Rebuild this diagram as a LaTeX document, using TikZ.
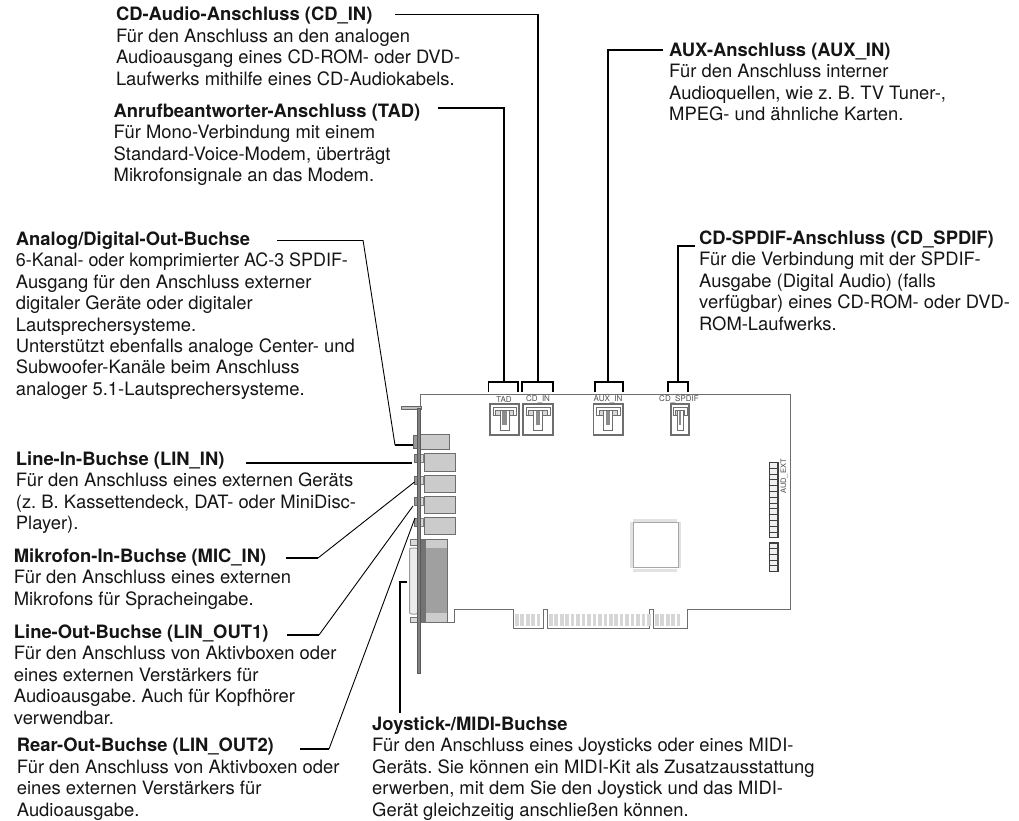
\documentclass[tikz,border=0pt]{standalone}
\usepackage{fontspec}
\setmainfont{TeX Gyre Heros}
\definecolor{cardline}{HTML}{6E6E6E}
\definecolor{jackfill}{HTML}{CBCBCB}
\definecolor{contact}{HTML}{D6D6D6}
\definecolor{pinband}{HTML}{E2E2E2}
\definecolor{dbdark}{HTML}{A0A0A0}
\definecolor{textk}{HTML}{151515}
\tikzset{
  blocktext/.style={anchor=north west,inner sep=0pt,align=left,text=textk,
    font=\fontsize{18.4}{21.45}\selectfont\frenchspacing},
  smalllabel/.style={inner sep=0pt,text=black!70,font=\fontsize{8}{9}\selectfont},
  leader/.style={draw=black,line width=1.5pt,line join=miter},
  slantleader/.style={draw=black,line width=.9pt},
  card/.style={draw=cardline,line width=1pt},
  jackbox/.style={draw=cardline,fill=jackfill,line width=1pt},
  knob/.style={draw=black!60,fill=black!40,line width=.8pt},
  headerpin/.style={draw=black!75,fill=black!6,line width=1.1pt},
}
\newcommand{\textblock}[5]{\node[blocktext] (#1) at (#2,#3) {\strut\textbf{#4}\\#5};}
% name, x left, x right, head inset, stem half width
\newcommand{\socket}[5]{%
  \node[draw=cardline,line width=1.1pt,minimum width=#3*1pt-#2*1pt,minimum height=31pt,inner sep=0pt] (#1) at ({(#2+#3)/2},419.5) {};
  \draw[cardline,line width=1pt,fill=white] (#2+#4,407.5) rectangle (#3-#4,415.5);
  \draw[cardline,line width=.8pt,fill=black!15] (#2+#4+2.5,410) rectangle (#3-#4-2.5,415.5);
  \draw[cardline,line width=1pt,fill=white] ({(#2+#3)/2-#5},410) rectangle ({(#2+#3)/2+#5},430);
  \fill[black!45] ({(#2+#3)/2-#5*.45},411) rectangle ({(#2+#3)/2+#5*.45},425);
}
\begin{document}
\begin{tikzpicture}[x=1pt,y=-1pt]
\useasboundingbox (0,0) rectangle (1019,820);
% ---------- card ----------
\draw[card] (420,622) -- (454,622) -- (454,609) -- (513,609) -- (513,628) -- (543,628) -- (543,609) -- (547,609) -- (547,628) -- (649,628) -- (649,609) -- (653,609) -- (653,628) -- (687,628) -- (687,609) -- (790,609) -- (790,394) -- (420,394) -- cycle;
% edge contacts
\foreach \i in {0,...,4} {\fill[contact] (515+\i*5.45,613.5) rectangle ++(3.6,12);}
\foreach \i in {0,...,18} {\fill[contact] (549+\i*5.45,613.5) rectangle ++(3.6,12);}
\foreach \i in {0,...,4} {\fill[contact] (655+\i*5.45,613.5) rectangle ++(3.6,12);}
% chip
\fill[pinband] (633,519) rectangle (677,521.5);
\fill[pinband] (633,569) rectangle (677,571.5);
\fill[pinband] (630,522) rectangle (632.5,568);
\fill[pinband] (678.5,522) rectangle (681,568);
\node[draw=black!35,line width=1pt,minimum width=45pt,minimum height=45pt,inner sep=0pt] (chip) at (655.5,545) {};
% pin headers
\foreach \i in {0,...,12} {\draw[headerpin] (769.5,462.5+\i*5.8) rectangle ++(8.5,5.8);}
\foreach \i in {0,...,4} {\draw[headerpin] (769.5,543+\i*5.7) rectangle ++(8.5,5.7);}
\node[smalllabel,rotate=90,font=\fontsize{7.5}{9}\selectfont] (audext) at (784,476.5) {AUD\_EXT};
% sockets
\socket{tad}{490}{519}{3}{4.5}
\socket{cdin}{523}{553}{3}{4.5}
\socket{aux}{593.5}{623}{3}{4.5}
\socket{spdif}{671}{689}{2}{3}
\node[smalllabel] (ltad) at (504,399.5) {TAD};
\node[smalllabel] (lcd) at (538,399.5) {CD\_IN};
\node[smalllabel] (laux) at (608,399.5) {AUX\_IN};
\node[smalllabel] (lspdif) at (679,399.5) {CD\_SPDIF};
% DB connector
\draw[draw=black!40,fill=black!8,line width=1pt,rounded corners=2pt] (409.5,548) rectangle (418,614);
\draw[draw=black!55,fill=black!15,line width=.8pt] (410,539.5) rectangle (418,545);
\draw[draw=black!55,fill=black!15,line width=.8pt] (410,617) rectangle (418,622);
\draw[draw=cardline,fill=black!20,line width=1pt] (420,539) rectangle (447,622);
\fill[dbdark] (426,548) rectangle (446.5,613);
% jacks
\node[jackbox,minimum width=29pt,minimum height=15pt,inner sep=0pt] (j0) at (434.5,441.5) {};
\node[knob,minimum width=4pt,minimum height=13pt,inner sep=0pt] (k0) at (415.5,441.5) {};
\foreach \y/\n in {462.5/1,484/2,505/3,526/4} {
  \node[jackbox,minimum width=31pt,minimum height=17.5pt,inner sep=0pt] (j\n) at (439.5,\y) {};
  \node[knob,minimum width=3.5pt,minimum height=8pt,inner sep=0pt] (k\n) at (415.8,\y-4) {};
  \node[draw=black!50,fill=black!15,line width=.8pt,minimum width=3.5pt,minimum height=8pt,inner sep=0pt] (c\n) at (422,\y-4) {};
}
% bracket
\draw[draw=black!60,fill=black!25,line width=1pt] (401,406.5) rectangle (421,409);
\draw[draw=black!65,fill=black!50,line width=1pt] (417,408) rectangle (420.5,673);
\fill[black!55] (421,539.5) rectangle (426,621.5);
% ---------- text ----------
\textblock{tcd}{115.8}{5.7}{CD-Audio-Anschluss (CD\_IN)}{Für den Anschluss an den analogen\\Audioausgang eines CD-ROM- oder DVD-\\Laufwerks mithilfe eines CD-Audiokabels.}
\textblock{ttad}{113.5}{102}{Anrufbeantworter-Anschluss (TAD)}{Für Mono-Verbindung mit einem\\Standard-Voice-Modem, überträgt\\Mikrofonsignale an das Modem.}
\textblock{taux}{669}{41}{AUX-Anschluss (AUX\_IN)}{Für den Anschluss interner\\Audioquellen, wie z. B. TV Tuner-,\\MPEG- und ähnliche Karten.}
\textblock{tana}{15.7}{230}{Analog/Digital-Out-Buchse}{\scalebox{.975}[1]{6-Kanal- oder komprimierter AC-3 SPDIF-}\\Ausgang für den Anschluss externer\\digitaler Geräte oder digitaler\\Lautsprechersysteme.\\Unterstützt ebenfalls analoge Center- und\\Subwoofer-Kanäle beim Anschluss\\analoger 5.1-Lautsprechersysteme.}
\textblock{tspd}{699}{229}{CD-SPDIF-Anschluss (CD\_SPDIF)}{Für die Verbindung mit der SPDIF-\\Ausgabe (Digital Audio) (falls\\verfügbar) eines CD-ROM- oder DVD-\\ROM-Laufwerks.}
\textblock{tlin}{15.7}{450}{Line-In-Buchse (LIN\_IN)}{Für den Anschluss eines externen Geräts\\(z. B. Kassettendeck, DAT- oder MiniDisc-\\Player).}
\textblock{tmic}{13.7}{547}{Mikrofon-In-Buchse (MIC\_IN)}{Für den Anschluss eines externen\\Mikrofons für Spracheingabe.}
\textblock{tlo}{13.7}{623}{Line-Out-Buchse (LIN\_OUT1)}{Für den Anschluss von Aktivboxen oder\\eines externen Verstärkers für\\Audioausgabe. Auch für Kopfhörer\\verwendbar.}
\textblock{trear}{16.7}{736.5}{Rear-Out-Buchse (LIN\_OUT2)}{Für den Anschluss von Aktivboxen oder\\eines externen Verstärkers für\\Audioausgabe.}
\textblock{tjoy}{372}{715}{Joystick-/MIDI-Buchse}{Für den Anschluss eines Joysticks oder eines MIDI-\\Geräts. Sie können ein MIDI-Kit als Zusatzausstattung\\erwerben, mit dem Sie den Joystick und das MIDI-\\Gerät gleichzeitig anschließen können.}
% ---------- leaders ----------
\coordinate (scd) at (395,14.5);   \coordinate (stad) at (438,108);
\coordinate (saux) at (663,50);  \coordinate (sspd) at (695,246);
\coordinate (bcd) at (538,382);  \coordinate (btad) at (504,382);
\coordinate (baux) at (608,382); \coordinate (bspd) at (678,382);
\draw[leader] (scd) -| (bcd);
\draw[leader] (stad) -| (btad);
\draw[leader] (saux) -| (baux);
\draw[leader] (sspd) -| (bspd);
\draw[leader] (488.5,392) -- (488.5,382) -- (518,382) -- (518,392);
\draw[leader] (522,392) -- (522,382) -- (553,382) -- (553,392);
\draw[leader] (595,392) -- (595,382) -- (623,382) -- (623,392);
\draw[leader] (668,392) -- (668,382) -- (688,382) -- (688,392);
\coordinate (sana) at (277,240); \coordinate (bana) at (363,240); \coordinate (cana) at (395,445);
\draw[leader,line width=1pt] (sana) -- (bana);
\draw[slantleader] (bana) -- (cana);
\draw[leader] (cana) -- (cana -| k0.west);
\coordinate (slin) at (246,463); \coordinate (elin) at (412,463);
\draw[leader] (slin) -- (elin);
\coordinate (smic) at (286,558); \coordinate (bmic) at (318,558); \coordinate (emic) at (414.5,482);
\draw[leader] (smic) -- (bmic);
\draw[slantleader] (bmic) -- (emic);
\coordinate (slo) at (287,635); \coordinate (blo) at (319,635); \coordinate (elo) at (413,506);
\draw[leader] (slo) -- (blo);
\draw[slantleader] (blo) -- (elo);
\coordinate (sre) at (300,749); \coordinate (bre) at (329,749); \coordinate (ere) at (415,518);
\draw[leader] (sre) -- (bre);
\draw[slantleader] (bre) -- (ere);
\coordinate (ejoy) at (407,582); \coordinate (bjoy) at (400,582); \coordinate (sjoy) at (400,713);
\draw[leader] (ejoy) -- (bjoy) -- (sjoy);
\end{tikzpicture}
\end{document}
